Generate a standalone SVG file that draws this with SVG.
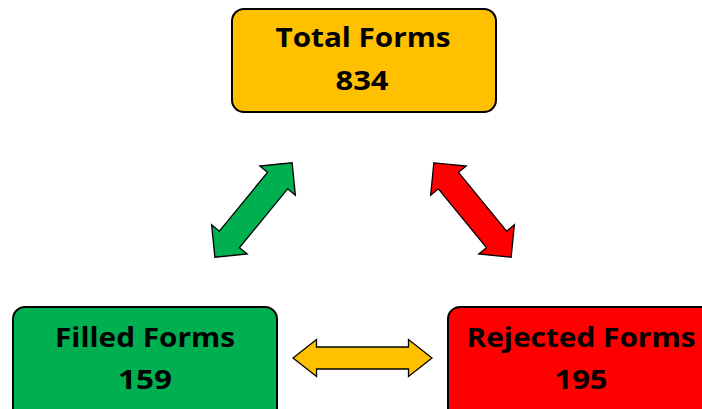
<svg xmlns="http://www.w3.org/2000/svg" width="702" height="409" viewBox="0 0 702 409">
<style>
.box{stroke:#000;stroke-width:2}
.t{font-family:"Open Sans",Lato,sans-serif;font-weight:bold;font-size:26px;fill:#000;text-anchor:middle}
.arr{stroke:#000;stroke-width:1.3;stroke-linejoin:miter}
</style>
<rect width="702" height="409" fill="#fff"/>
<g id="total">
<rect class="box" x="232" y="9" width="264" height="103" rx="12" fill="#FFC000"/>
<text class="t" x="363" y="47" textLength="175" lengthAdjust="spacingAndGlyphs">Total Forms</text>
<text class="t" x="362" y="90" textLength="53" lengthAdjust="spacingAndGlyphs">834</text>
</g>
<g id="filled">
<rect class="box" x="13" y="307" width="264" height="115" rx="12" fill="#00B050"/>
<text class="t" x="145" y="347" textLength="180" lengthAdjust="spacingAndGlyphs">Filled Forms</text>
<text class="t" x="145" y="389" textLength="54" lengthAdjust="spacingAndGlyphs">159</text>
</g>
<g id="rejected">
<rect class="box" x="448" y="307" width="270" height="115" rx="12" fill="#FF0000"/>
<text class="t" x="581" y="347" textLength="229" lengthAdjust="spacingAndGlyphs">Rejected Forms</text>
<text class="t" x="581" y="389" textLength="53" lengthAdjust="spacingAndGlyphs">195</text>
</g>
<g id="connectors">
<path class="arr" fill="#00B050" transform="translate(253.5 210) rotate(-50.7)" d="M-61 0 L-38 -23 L-38 -13 L38 -13 L38 -23 L61 0 L38 23 L38 13 L-38 13 L-38 23 Z"/>
<path class="arr" fill="#FF0000" transform="translate(472.5 210) rotate(50.7)" d="M-61 0 L-38 -23 L-38 -13 L38 -13 L38 -23 L61 0 L38 23 L38 13 L-38 13 L-38 23 Z"/>
<path class="arr" fill="#FFC000" transform="translate(362.5 358)" d="M-69.5 0 L-46 -18.5 L-46 -11 L46 -11 L46 -18.5 L69.5 0 L46 18.5 L46 11 L-46 11 L-46 18.5 Z"/>
</g>
</svg>
